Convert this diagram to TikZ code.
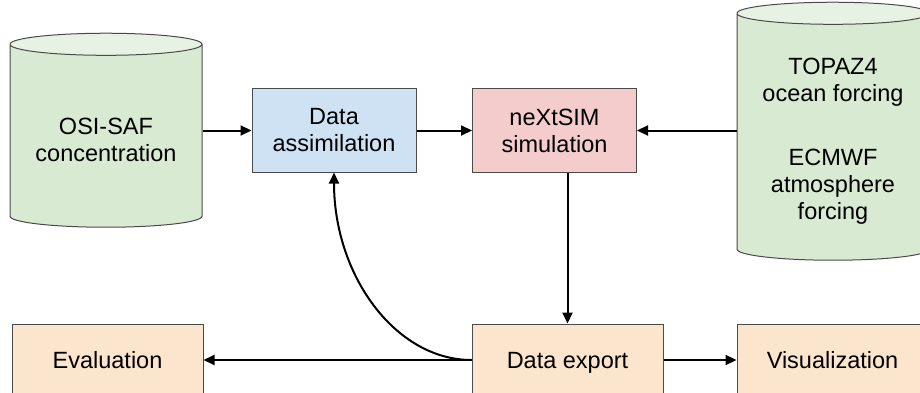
\documentclass[tikz,border=0pt]{standalone}
\usepackage{fontspec}
\setmainfont{Liberation Sans}
\usetikzlibrary{shapes.geometric,arrows.meta}
\definecolor{cylgreen}{HTML}{D9EAD3}
\definecolor{cyltop}{HTML}{E7F1E4}
\definecolor{boxblue}{HTML}{CFE2F3}
\definecolor{boxred}{HTML}{F4CCCC}
\definecolor{boxorange}{HTML}{FCE5CD}
\definecolor{rim}{HTML}{4A4A4A}
\tikzstyle{flow}=[font=\fontsize{23.5}{27}\selectfont]
\tikzstyle{store}=[cylinder, shape border rotate=90, aspect=0.115, draw=rim, line width=1pt, cylinder uses custom fill, cylinder body fill=cylgreen, cylinder end fill=cyltop, minimum width=192pt, inner sep=0pt]
\tikzstyle{inside}=[yshift=-4pt, align=center]
\tikzstyle{proc}=[rectangle, draw=rim, line width=1pt, minimum width=164pt, minimum height=83pt, inner sep=0pt, align=center]
\tikzstyle{result}=[rectangle, draw=rim, line width=1pt, fill=boxorange, minimum width=191pt, minimum height=72pt, inner sep=0pt, text height=21pt, text depth=4pt]
\tikzstyle{edge}=[line width=2pt, -{Triangle[length=11pt,width=10pt]}]
\begin{document}
\begin{tikzpicture}[flow, x=1pt, y=-1pt]
				\useasboundingbox (0,0) rectangle (920,393);
				\clip (0,0) rectangle (920,393);
				
				%The input data
				\draw (106,136) node[store, minimum height=194pt, label={[inside]center:OSI-SAF\\concentration}] (osi) {\hspace*{192pt}};
				\draw (833,137) node[store, minimum height=258pt, label={[inside]center:TOPAZ4\\ocean forcing\\[37pt]ECMWF\\atmosphere\\forcing}] (forc) {\hspace*{192pt}};
				
				%The model chain
				\draw (334,130.5) node[proc, fill=boxblue] (da) {Data\\assimilation};
				\draw (554.5,130.5) node[proc, fill=boxred] (sim) {neXtSIM\\simulation};
				
				%The outputs
				\draw (107.5,360) node[result] (ev) {Evaluation};
				\draw (567.5,360) node[result] (de) {Data export};
				\draw (832.5,360) node[result] (vis) {Visualization};
				
				\draw[edge] (da -| osi.east) -- (da);
				\draw[edge] (da) -- (sim);
				\draw[edge] (sim -| forc.west) -- (sim);
				\draw[edge] (de.north |- sim.south) -- (de.north);
				\draw[edge] (de) -- (ev);
				\draw[edge] (de) -- (vis);
				\draw[edge] (de.west) .. controls +(-76,0) and +(0,103) .. (da.south);
			\end{tikzpicture}
\end{document}
